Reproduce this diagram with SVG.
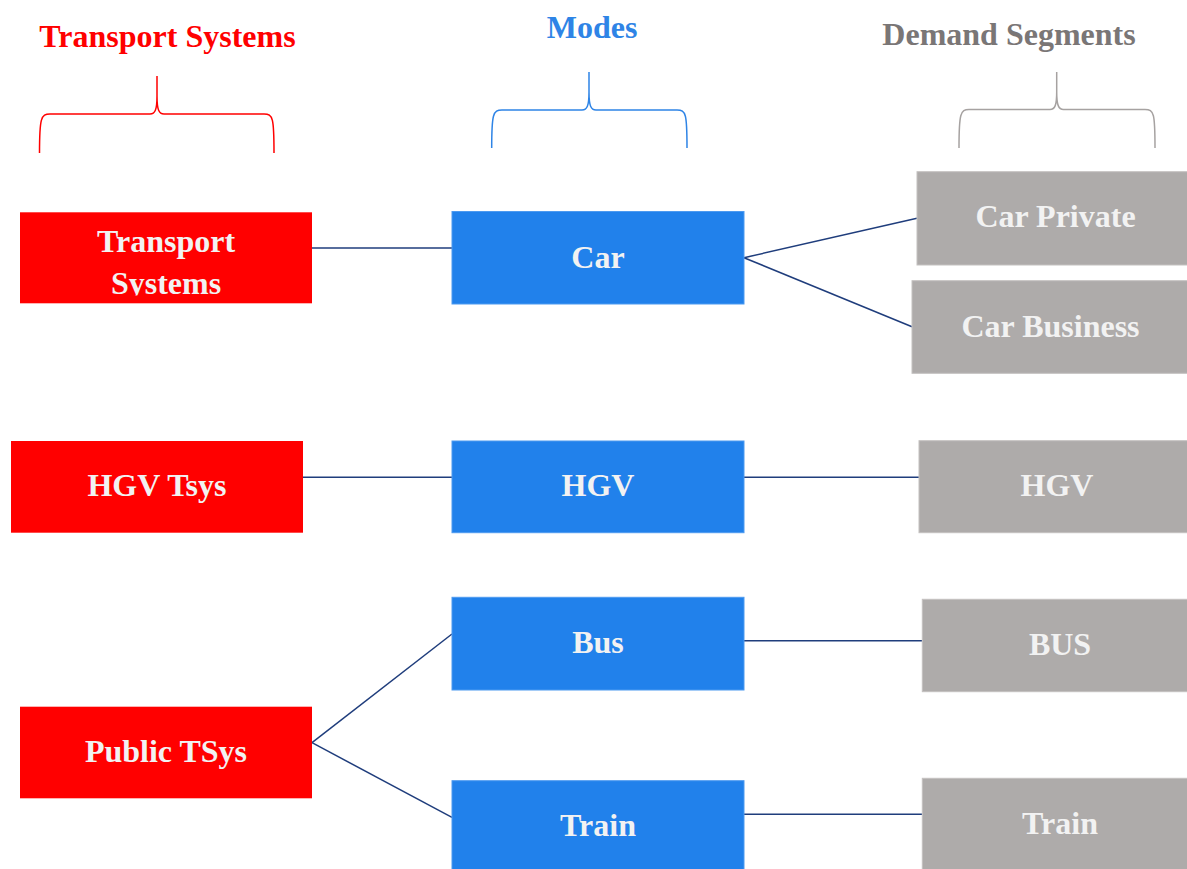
<svg xmlns="http://www.w3.org/2000/svg" width="1187" height="869" viewBox="0 0 1187 869">
<style>
text{font-family:"Liberation Serif","Times New Roman",serif;font-weight:bold;font-size:32px;text-anchor:middle}
.hd{font-size:32px}
.nt{fill:#f2f2f2}
.red{fill:#ff0000}
.blue{fill:#2181eb;stroke:#4d9af0;stroke-width:1}
.gray{fill:#aeabaa;stroke:#c4c1c0;stroke-width:1}
.brace{fill:none;stroke-width:1.5}
.conn line{stroke:#1f3d7c;stroke-width:1.5}
</style>
<defs>
<clipPath id="clipTS"><rect x="20" y="200" width="292" height="95.5"/></clipPath>
</defs>
<rect width="1187" height="869" fill="#ffffff"/>

<g id="headers">
<text class="hd" x="167.5" y="46.5" fill="#ff0000">Transport Systems</text>
<text class="hd" x="592" y="37.5" fill="#2e84e6">Modes</text>
<text class="hd" x="1009" y="45" fill="#7a7676">Demand Segments</text>
</g>

<g id="braces">
<path class="brace" stroke="#ff0000" d="M39.5,153 C39.5,118 41,114 50,114 L150,114 C155,114 157,110 157,96 L157,76 M157,96 C157,110 159,114 164,114 L264,114 C273,114 274,118 274,153"/>
<path class="brace" stroke="#2e84e6" d="M491.7,148 C491.7,114 493,110 502,110 L582,110 C587,110 589,106 589,92 L589,72 M589,92 C589,106 591,110 596,110 L677,110 C686,110 687,114 687,148"/>
<path class="brace" stroke="#a6a2a1" d="M959,148 C959,113.5 960.5,109.5 969,109.5 L1050,109.5 C1055,109.5 1056.7,105 1056.7,92 L1056.7,72 M1056.7,92 C1056.7,105 1058.5,109.5 1063.5,109.5 L1145,109.5 C1154,109.5 1155,113.5 1155,148"/>
</g>

<g class="conn" id="connectors">
<line x1="312" y1="248" x2="452" y2="248"/>
<line x1="744" y1="257.7" x2="917" y2="218.3"/>
<line x1="744" y1="257.7" x2="912" y2="326.7"/>
<line x1="303" y1="477.3" x2="452" y2="477.3"/>
<line x1="744" y1="477.3" x2="919" y2="477.3"/>
<line x1="744" y1="640.7" x2="922" y2="640.7"/>
<line x1="312" y1="742.7" x2="452" y2="634"/>
<line x1="312" y1="742.7" x2="452" y2="817.3"/>
<line x1="744" y1="814.3" x2="922" y2="814.3"/>
</g>

<g id="ts-transport">
<rect class="red" x="20" y="212.3" width="292" height="91"/>
<text class="nt" x="166" y="252">Transport</text>
<text class="nt" x="166" y="293.5" clip-path="url(#clipTS)">Systems</text>
</g>
<g id="ts-hgv">
<rect class="red" x="11" y="441" width="292" height="91.7"/>
<text class="nt" x="157" y="496">HGV Tsys</text>
</g>
<g id="ts-public">
<rect class="red" x="20" y="706.7" width="292" height="91.6"/>
<text class="nt" x="166" y="762">Public TSys</text>
</g>

<g id="mode-car">
<rect class="blue" x="452" y="211.5" width="292" height="92.5"/>
<text class="nt" x="598" y="267.5">Car</text>
</g>
<g id="mode-hgv">
<rect class="blue" x="452" y="441" width="292" height="91.7"/>
<text class="nt" x="598" y="496">HGV</text>
</g>
<g id="mode-bus">
<rect class="blue" x="452" y="597.3" width="292" height="92.7"/>
<text class="nt" x="598" y="652.5">Bus</text>
</g>
<g id="mode-train">
<rect class="blue" x="452" y="780.7" width="292" height="90"/>
<text class="nt" x="598" y="835.5">Train</text>
</g>

<g id="ds-car-private">
<rect class="gray" x="917" y="171.7" width="272" height="93.3"/>
<text class="nt" x="1055.5" y="227">Car Private</text>
</g>
<g id="ds-car-business">
<rect class="gray" x="912" y="280.7" width="277" height="92.6"/>
<text class="nt" x="1050.5" y="336.5">Car Business</text>
</g>
<g id="ds-hgv">
<rect class="gray" x="919" y="440.7" width="270" height="92"/>
<text class="nt" x="1057" y="495.5">HGV</text>
</g>
<g id="ds-bus">
<rect class="gray" x="922.3" y="599.3" width="267" height="92.4"/>
<text class="nt" x="1060" y="654.5">BUS</text>
</g>
<g id="ds-train">
<rect class="gray" x="922.3" y="778.3" width="267" height="92"/>
<text class="nt" x="1060" y="833.5">Train</text>
</g>
</svg>
